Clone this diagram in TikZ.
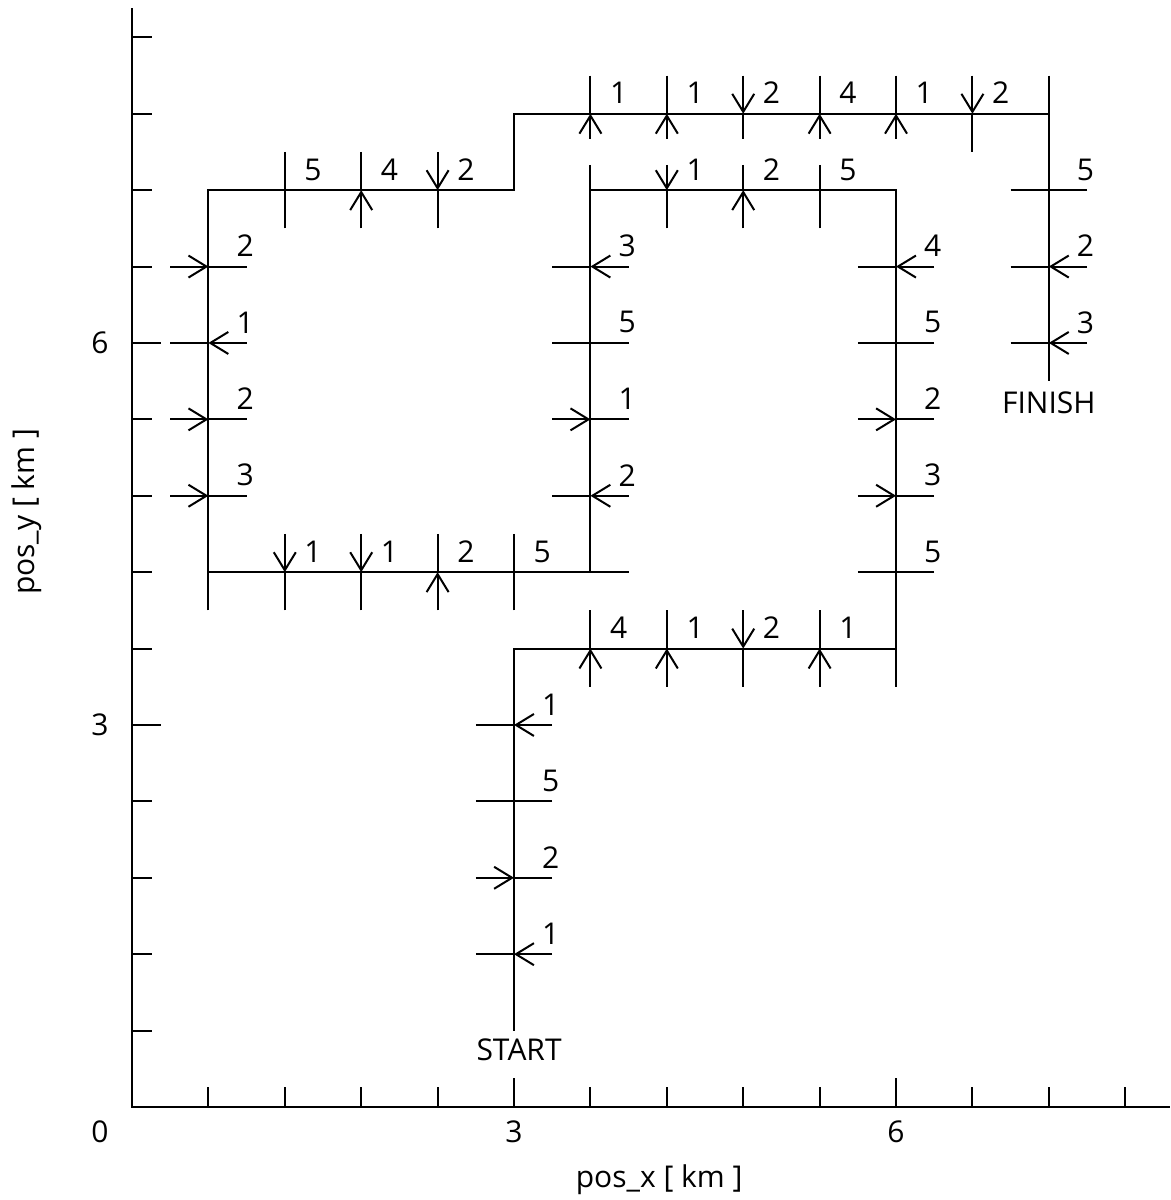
\documentclass[tikz,border=0pt]{standalone}
\usepackage{fontspec}
\setmainfont{Open Sans}
\usetikzlibrary{arrows.meta}
% horizontal tick on a vertical run: #1,#2 point; #3 style of left half; #4 style of right half; #5 label
\newcommand\HTk[5]{%
  \coordinate (h#1-#2) at (#1,#2);
  \coordinate (hl#1-#2) at (#1-0.5,#2);
  \coordinate (hr#1-#2) at (#1+0.5,#2);
  \draw[#3] (hl#1-#2) -- (h#1-#2);
  \draw[#4] (hr#1-#2) -- (h#1-#2);
  \node[lab] (hn#1-#2) at (#1+0.48,#2+0.27) {#5};}
% vertical tick on a horizontal run: #3 style of lower half; #4 style of upper half; #5 label; #6 lower length; #7 upper length
\newcommand\VTk[7]{%
  \coordinate (v#1-#2) at (#1,#2);
  \coordinate (vb#1-#2) at (#1,#2-#6);
  \coordinate (va#1-#2) at (#1,#2+#7);
  \draw[#3] (vb#1-#2) -- (v#1-#2);
  \draw[#4] (va#1-#2) -- (v#1-#2);
  \node[lab] (vn#1-#2) at (#1+0.37,#2+0.27) {#5};}
\begin{document}
\begin{tikzpicture}[x=38.2pt,y=38.2pt,line width=1pt,
  arr/.style={-{Straight Barb[length=9pt,width=11pt]}},
  lab/.style={font=\fontsize{15pt}{17pt}\selectfont,inner sep=0pt},
  axis/.style={line width=1.2pt}]
\useasboundingbox (-1.7277,-1.2173) rectangle (13.586,14.489);
% axes
\coordinate (O) at (0,0);
\coordinate (Ytop) at (0,14.38);
\coordinate (Xend) at (13.586,0);
\draw[axis] (Ytop) -- (O) -- (Xend);
\foreach \k in {1,2,3,4,6,7,8,9,11,12,13,14} \draw (0,\k) -- ++(0.262,0);
\foreach \k in {5,10} \draw (0,\k) -- ++(0.38,0);
\foreach \k in {1,2,3,4,6,7,8,9,11,12,13} \draw (\k,0) -- ++(0,0.262);
\foreach \k in {5,10} \draw (\k,0) -- ++(0,0.38);
\node[lab] (l0) at (-0.42,-0.33) {0};
\node[lab] (lx3) at (5,-0.33) {3};
\node[lab] (lx6) at (10,-0.33) {6};
\node[lab] (ly3) at (-0.42,5) {3};
\node[lab] (ly6) at (-0.42,10) {6};
\node[lab] (xt) at (6.90,-0.955) {pos\_x [ km ]};
\node[lab,rotate=90] (yt) at (-1.374,7.79) {pos\_y [ km ]};
% route
\coordinate (s) at (5,1);
\coordinate (c1) at (5,6);
\coordinate (c2) at (10,6);
\coordinate (c3) at (10,12);
\coordinate (c4) at (6,12);
\coordinate (c5) at (6,7);
\coordinate (c6) at (1,7);
\coordinate (c7) at (1,12);
\coordinate (c8) at (5,12);
\coordinate (c9) at (5,13);
\coordinate (c10) at (12,13);
\coordinate (f) at (12,10);
\coordinate (fe) at (12,9.5);
\draw (s) -- (c1) -- (c2) -- (c3) -- (c4) -- (c5) -- (c6) -- (c7) -- (c8) -- (c9) -- (c10) -- (f) -- (fe);
\node[lab] (start) at (5.066,0.746) {START};
\node[lab] (finish) at (12.0,9.215) {FINISH};
% A
\HTk{5}{2}{}{arr}{1}
\HTk{5}{3}{arr}{}{2}
\HTk{5}{4}{}{}{5}
\HTk{5}{5}{}{arr}{1}
% B
\VTk{6}{6}{arr}{}{4}{0.5}{0.5}
\VTk{7}{6}{arr}{}{1}{0.5}{0.5}
\VTk{8}{6}{}{arr}{2}{0.5}{0.5}
\VTk{9}{6}{arr}{}{1}{0.5}{0.5}
\coordinate (k2) at (10,5.5);
\draw (k2) -- (c2);
% C
\HTk{10}{7}{}{}{5}
\HTk{10}{8}{arr}{}{3}
\HTk{10}{9}{arr}{}{2}
\HTk{10}{10}{}{}{5}
\HTk{10}{11}{}{arr}{4}
% D
\VTk{9}{12}{}{}{5}{0.5}{0.33}
\VTk{8}{12}{arr}{}{2}{0.5}{0.33}
\VTk{7}{12}{}{arr}{1}{0.5}{0.33}
\coordinate (k4) at (6,12.33);
\draw (k4) -- (c4);
% E
\HTk{6}{11}{}{arr}{3}
\HTk{6}{10}{}{}{5}
\HTk{6}{9}{arr}{}{1}
\HTk{6}{8}{}{arr}{2}
\coordinate (k5) at (6.5,7);
\draw (k5) -- (c5);
% F
\VTk{5}{7}{}{}{5}{0.5}{0.5}
\VTk{4}{7}{arr}{}{2}{0.5}{0.5}
\VTk{3}{7}{}{arr}{1}{0.5}{0.5}
\VTk{2}{7}{}{arr}{1}{0.5}{0.5}
\coordinate (k6) at (1,6.5);
\draw (k6) -- (c6);
% G
\HTk{1}{8}{arr}{}{3}
\HTk{1}{9}{arr}{}{2}
\HTk{1}{10}{}{arr}{1}
\HTk{1}{11}{arr}{}{2}
% H
\VTk{2}{12}{}{}{5}{0.5}{0.5}
\VTk{3}{12}{arr}{}{4}{0.5}{0.5}
\VTk{4}{12}{}{arr}{2}{0.5}{0.5}
% J
\VTk{6}{13}{arr}{}{1}{0.33}{0.5}
\VTk{7}{13}{arr}{}{1}{0.33}{0.5}
\VTk{8}{13}{}{arr}{2}{0.33}{0.5}
\VTk{9}{13}{arr}{}{4}{0.33}{0.5}
\VTk{10}{13}{arr}{}{1}{0.33}{0.5}
\VTk{11}{13}{}{arr}{2}{0.5}{0.5}
\coordinate (k10) at (12,13.5);
\draw (k10) -- (c10);
% K
\HTk{12}{12}{}{}{5}
\HTk{12}{11}{}{arr}{2}
\HTk{12}{10}{}{arr}{3}
\end{tikzpicture}
\end{document}
